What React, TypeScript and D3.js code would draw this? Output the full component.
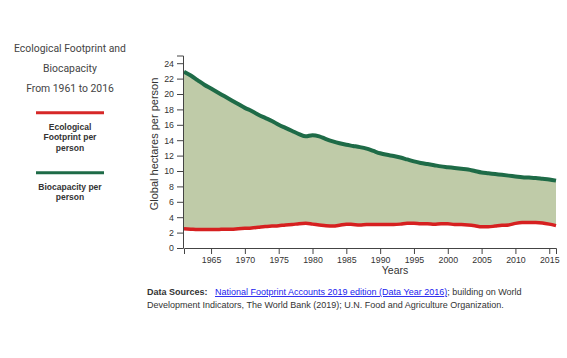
import React, { useEffect, useRef } from "react";
import * as d3 from "d3";

const years = d3.range(1961, 2017);
const biocapacity = [
  22.9, 22.4, 21.8, 21.2, 20.7, 20.2, 19.7, 19.2, 18.7, 18.2,
  17.8, 17.3, 16.9, 16.5, 16.0, 15.6, 15.2, 14.8, 14.5, 14.65,
  14.5, 14.15, 13.85, 13.6, 13.4, 13.25, 13.1, 12.9, 12.6, 12.3,
  12.1, 11.95, 11.75, 11.5, 11.25, 11.05, 10.9, 10.75, 10.6, 10.5,
  10.4, 10.3, 10.2, 10.0, 9.8, 9.7, 9.6, 9.5, 9.4, 9.3,
  9.2, 9.15, 9.1, 9.0, 8.9, 8.75,
];
const footprint = [
  2.5, 2.45, 2.4, 2.4, 2.4, 2.4, 2.45, 2.45, 2.5, 2.55,
  2.6, 2.7, 2.8, 2.85, 2.9, 3.0, 3.05, 3.15, 3.2, 3.1,
  3.0, 2.9, 2.85, 2.95, 3.1, 3.05, 3.0, 3.05, 3.05, 3.05,
  3.05, 3.05, 3.1, 3.2, 3.2, 3.15, 3.15, 3.1, 3.15, 3.15,
  3.05, 3.05, 3.0, 2.9, 2.75, 2.75, 2.85, 2.95, 3.0, 3.2,
  3.3, 3.3, 3.3, 3.25, 3.1, 2.9,
];
const xTicks = [1965, 1970, 1975, 1980, 1985, 1990, 1995, 2000, 2005, 2010, 2015];
const yTicks = [0, 2, 4, 6, 8, 10, 12, 14, 16, 18, 20, 22, 24];
const titleLines = ["Ecological Footprint and", "Biocapacity", "From 1961 to 2016"];

export default function App() {
  const gx = useRef<SVGGElement>(null);
  const gy = useRef<SVGGElement>(null);
  const x = d3.scaleLinear().domain([1961, 2016]).range([184, 556]);
  const y = d3.scaleLinear().domain([0, 25]).range([248, 55.5]);

  useEffect(() => {
    const ax = d3.select(gx.current!);
    ax.call(d3.axisBottom(x).tickValues(xTicks).tickFormat(d3.format("d")).tickSize(6).tickPadding(3));
    const ay = d3.select(gy.current!);
    ay.call(d3.axisLeft(y).tickValues(yTicks).tickSize(6).tickPadding(3));
    [ax, ay].forEach((a) => {
      a.selectAll("text").attr("font-family", "Liberation Sans, Arial, sans-serif").attr("font-size", 8.8).attr("fill", "#333");
      a.selectAll("line,path").attr("stroke", "#444");
    });
  }, []);

  const area = d3
    .area<number>()
    .x((_, i) => x(years[i]))
    .y0((_, i) => y(footprint[i]))
    .y1((_, i) => y(biocapacity[i]))
    .curve(d3.curveMonotoneX);
  const line = (vals: number[]) =>
    d3
      .line<number>()
      .x((_, i) => x(years[i]))
      .y((d) => y(d))
      .curve(d3.curveMonotoneX)(vals)!;

  const sans = "Liberation Sans, Arial, sans-serif";
  return (
    <svg width={567} height={358} style={{ position: "absolute", left: 0, top: 0 }}>
      <g fontFamily="Roboto, sans-serif" fontSize={10.4} fill="#444" textAnchor="middle">
        {titleLines.map((t, i) => (
          <text key={t} x={70} y={52 + i * 20}>{t}</text>
        ))}
      </g>
      <line x1={36} x2={104} y1={112.7} y2={112.7} stroke="#d62828" strokeWidth={3} />
      <g fontFamily={sans} fontSize={8.5} fontWeight="bold" fill="#333" textAnchor="middle">
        <text x={70} y={129.5}>Ecological</text>
        <text x={70} y={140}>Footprint per</text>
        <text x={70} y={150.5}>person</text>
      </g>
      <line x1={36} x2={104} y1={172.7} y2={172.7} stroke="#1e6b47" strokeWidth={3} />
      <g fontFamily={sans} fontSize={8.5} fontWeight="bold" fill="#333" textAnchor="middle">
        <text x={70} y={189.5}>Biocapacity per</text>
        <text x={70} y={200}>person</text>
      </g>

      <path d={area(biocapacity)!} fill="#bfcba8" />
      <path d={line(footprint)} fill="none" stroke="#d62020" strokeWidth={3.5} />
      <path d={line(biocapacity)} fill="none" stroke="#1e6b47" strokeWidth={4} />
      <g ref={gx} transform="translate(0,248)" />
      <g ref={gy} transform="translate(183,0)" />

      <text x={154} y={144} transform="rotate(-90,154,144)" textAnchor="middle" dominantBaseline="central"
        fontFamily={sans} fontSize={11} fill="#333">Global hectares per person</text>
      <text x={395} y={274} textAnchor="middle" fontFamily={sans} fontSize={10.5} fill="#333">Years</text>

      <text x={147} y={295} fontFamily={sans} fontSize={9} fill="#333">
        <tspan fontWeight="bold">Data Sources:</tspan>
        <tspan x={215} fill="#1a1aee" textDecoration="underline">National Footprint Accounts 2019 edition (Data Year 2016)</tspan>
        <tspan>; building on World</tspan>
      </text>
      <text x={147} y={307.5} fontFamily={sans} fontSize={9} fill="#333">
        Development Indicators, The World Bank (2019); U.N. Food and Agriculture Organization.
      </text>
    </svg>
  );
}
